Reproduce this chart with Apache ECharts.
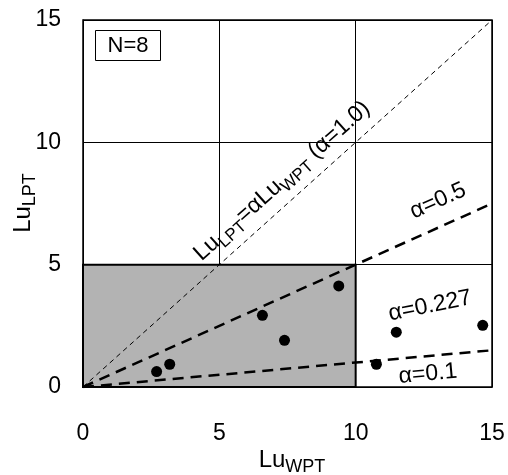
<!DOCTYPE html>
<html><head><meta charset="utf-8">
<script src="https://cdn.jsdelivr.net/npm/echarts@6/dist/echarts.min.js"></script>
<style>html,body{margin:0;padding:0;background:#fff}#c{width:508px;height:475px}</style>
</head><body><div id="c"></div>
<script>
// ---- data ----
const luWPT = [2.70, 3.18, 6.58, 7.39, 9.38, 10.76, 11.49, 14.66];
const luLPT = [0.63, 0.93, 2.93, 1.91, 4.13, 0.93, 2.24, 2.52];
const alphaLines = [1.0, 0.5, 0.1];
const tickLabels = ['0', '5', '10', '15'];
const axisMin = 0, axisMax = 15, tickStep = 5;
const shadedX = [0, 10];
const shadedY = [0, 5];
const nLabel = 'N=8';

const FONT = 'Liberation Sans, Arial, sans-serif';
const points = luWPT.map((x, i) => [x, luLPT[i]]);
const lineData = a => [[axisMin, axisMin * a], [axisMax, axisMax * a]];

function richSet(main, sub, lh) {
  return {
    m: { fontSize: main, lineHeight: lh, verticalAlign: 'middle', fontFamily: FONT, color: '#000' },
    s: { fontSize: sub, lineHeight: sub, verticalAlign: 'bottom', fontFamily: FONT, color: '#000' }
  };
}
const richAxis = richSet(24, 18, 32);
const richDiag = richSet(23, 17, 31);

const chart = echarts.init(document.getElementById('c'), null, { renderer: 'canvas' });
const G = { left: 83, top: 20, width: 409, height: 367 };

const axisCommon = {
  type: 'value', min: axisMin, max: axisMax, interval: tickStep,
  axisLine: { show: true, lineStyle: { color: '#000', width: 1 } },
  axisTick: { show: false },
  splitLine: { show: true, lineStyle: { color: '#000', width: 1 } },
  axisLabel: { fontSize: 23, color: '#000', fontFamily: FONT,
    formatter: v => tickLabels[Math.round((v - axisMin) / tickStep)] }
};

function deg(d) { return d * Math.PI / 180; }

chart.setOption({
  animation: false,
  grid: { left: G.left, top: G.top, width: G.width, height: G.height, show: true,
          borderColor: '#000', borderWidth: 1.5, backgroundColor: 'transparent' },
  xAxis: Object.assign({}, axisCommon, { axisLabel: Object.assign({}, axisCommon.axisLabel, { margin: 35 }) }),
  yAxis: Object.assign({}, axisCommon, { axisLabel: Object.assign({}, axisCommon.axisLabel, { margin: 22 }) }),
  series: [
    { type: 'line', z: -1, data: [], silent: true,
      markArea: { silent: true, itemStyle: { color: '#b3b3b3', borderColor: '#000', borderWidth: 2 },
        data: [[{ coord: [shadedX[0], shadedY[0]] }, { coord: [shadedX[1], shadedY[1]] }]] } },
    { type: 'line', data: lineData(alphaLines[0]), symbol: 'none', z: 3,
      lineStyle: { color: '#000', width: 1, type: [5, 4] } },
    { type: 'line', data: lineData(alphaLines[1]), symbol: 'none', z: 3,
      lineStyle: { color: '#000', width: 2.5, type: [11, 7] } },
    { type: 'line', data: lineData(alphaLines[2]), symbol: 'none', z: 3,
      lineStyle: { color: '#000', width: 2.5, type: [11, 7] } },
    { type: 'scatter', data: points, symbolSize: 11, z: 5, itemStyle: { color: '#000', opacity: 1 } }
  ],
  graphic: [
    { type: 'rect', shape: { x: 95.5, y: 30.5, width: 65, height: 30 },
      style: { fill: '#fff', stroke: '#000', lineWidth: 1 }, z: 10 },
    { type: 'text', x: 128, y: 46, z: 11,
      style: { text: nLabel, fontSize: 22, fontFamily: FONT, fill: '#000', align: 'center', verticalAlign: 'middle' } },
    { type: 'text', x: 292, y: 460, z: 11,
      style: { text: '{m|Lu}{s|WPT}', rich: richAxis, align: 'center', verticalAlign: 'middle' } },
    { type: 'text', x: 23, y: 203, rotation: deg(90), z: 11,
      style: { text: '{m|Lu}{s|LPT}', rich: richAxis, align: 'center', verticalAlign: 'middle' } },
    { type: 'text', x: 282, y: 181, rotation: deg(41.8), z: 11,
      style: { text: '{m|Lu}{s|LPT}{m|=αLu}{s|WPT}{m| (α=1.0)}', rich: richDiag, align: 'center', verticalAlign: 'middle' } },
    { type: 'text', x: 438, y: 201, rotation: deg(24.2), z: 11,
      style: { text: 'α=0.5', fontSize: 23, fontFamily: FONT, fill: '#000', align: 'center', verticalAlign: 'middle' } },
    { type: 'text', x: 430, y: 306, rotation: deg(11.5), z: 11,
      style: { text: 'α=0.227', fontSize: 23, fontFamily: FONT, fill: '#000', align: 'center', verticalAlign: 'middle' } },
    { type: 'text', x: 428, y: 374, rotation: deg(5.1), z: 11,
      style: { text: 'α=0.1', fontSize: 23, fontFamily: FONT, fill: '#000', align: 'center', verticalAlign: 'middle' } }
  ]
});
</script></body></html>
